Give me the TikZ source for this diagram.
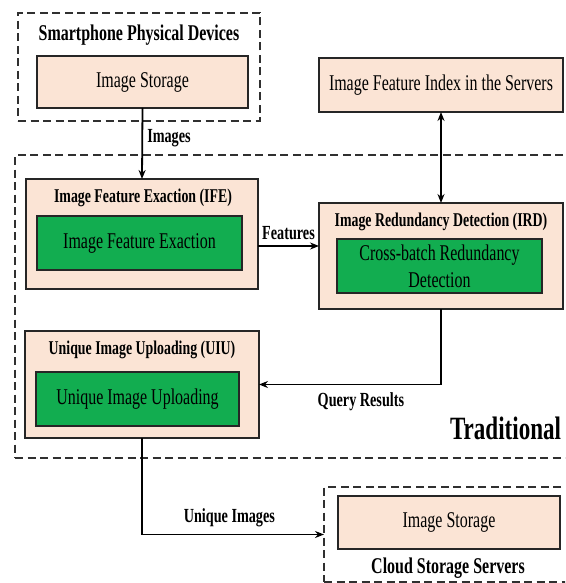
\documentclass[tikz,border=0pt]{standalone}
\usepackage{fontspec}
\setmainfont{Liberation Serif}[FakeStretch=0.71]
\usetikzlibrary{arrows.meta}

\definecolor{peach}{HTML}{FBE4D5}
\definecolor{leaf}{HTML}{12AD50}
\definecolor{dashgray}{HTML}{303030}

\begin{document}
\begin{tikzpicture}[x=1pt,y=-1pt,>={Stealth[length=9pt,width=7pt]},
  outer sep=0pt,inner sep=0pt,
  zone/.style={draw=dashgray,line width=2pt,dash pattern=on 8pt off 4.5pt},
  outer box/.style={draw=black!85,line width=1.8pt,fill=peach},
  plain/.style={font=\fontsize{22.5}{27}\selectfont},
  inner box/.style={draw=black!85,line width=1.6pt,fill=leaf,align=center,plain},
  head/.style={font=\fontsize{19.5}{22}\selectfont\bfseries},
  big head/.style={font=\fontsize{22.5}{26}\selectfont\bfseries},
  tag/.style={font=\fontsize{20}{23}\selectfont\bfseries},
  flow/.style={->,line width=1.8pt}]

 \clip (0,0) rectangle (565,583);

 % dashed containers
 \node[zone,minimum width=242pt,minimum height=108pt] (phone) at (139,67) {};
 \node[zone,minimum width=585pt,minimum height=303pt] (trad) at (307.5,306.5) {};
 \node[zone,minimum width=296pt,minimum height=95pt] (cloud) at (472,534.5) {};

 \node[big head] (phonet) at (139,35) {Smartphone Physical Devices};
 \node[font=\fontsize{32.5}{36}\selectfont\bfseries,anchor=west] (tradt) at (450,428) {Traditional};
 \node[big head] (cloudt) at (448,568) {Cloud Storage Servers};

 % storage and index boxes
 \node[outer box,plain,minimum width=211pt,minimum height=52pt] (store1) at (142.5,82) {Image Storage};
 \node[outer box,plain,minimum width=244pt,minimum height=54pt] (index) at (441,85) {Image Feature Index in the Servers};
 \node[outer box,plain,minimum width=222pt,minimum height=53pt] (store2) at (449,522.5) {Image Storage};

 % module boxes
 \node[outer box,minimum width=232pt,minimum height=110pt] (ife) at (142,234) {};
 \node[head] (ifet) at (143,198) {Image Feature Exaction (IFE)};
 \node[inner box,minimum width=205pt,minimum height=54pt] (ifeg) at (139.5,243) {Image Feature Exaction};

 \node[outer box,minimum width=244pt,minimum height=106pt] (ird) at (441,256) {};
 \node[head] (irdt) at (441,222) {Image Redundancy Detection (IRD)};
 \node[inner box,minimum width=205pt,minimum height=54pt] (irdg) at (439.5,266) {Cross-batch Redundancy\\Detection};

 \node[outer box,minimum width=234pt,minimum height=107pt] (uiu) at (142,384.5) {};
 \node[head] (uiut) at (142,350) {Unique Image Uploading (UIU)};
 \node[inner box,minimum width=203pt,minimum height=54pt] (uiug) at (137.5,399) {Unique Image Uploading};

 % connectors
 \draw[flow] (store1.south) -- node[tag,right=5pt,pos=0.42] {Images} (ife.north);
 \draw[flow] ([yshift=-12pt]ife.east) -- node[tag,above=6pt] {Features} ([yshift=10pt]ird.west);
 \draw[flow,<->] (index.south) -- (ird.north);
 \draw[flow] (ird.south) |- node[tag,below=8pt,pos=0.72] {Query Results} (uiu.east);
 \draw[flow] (uiu.south) |- node[tag,above=8pt,pos=0.74] {Unique Images} (cloud.west);

\end{tikzpicture}
\end{document}
